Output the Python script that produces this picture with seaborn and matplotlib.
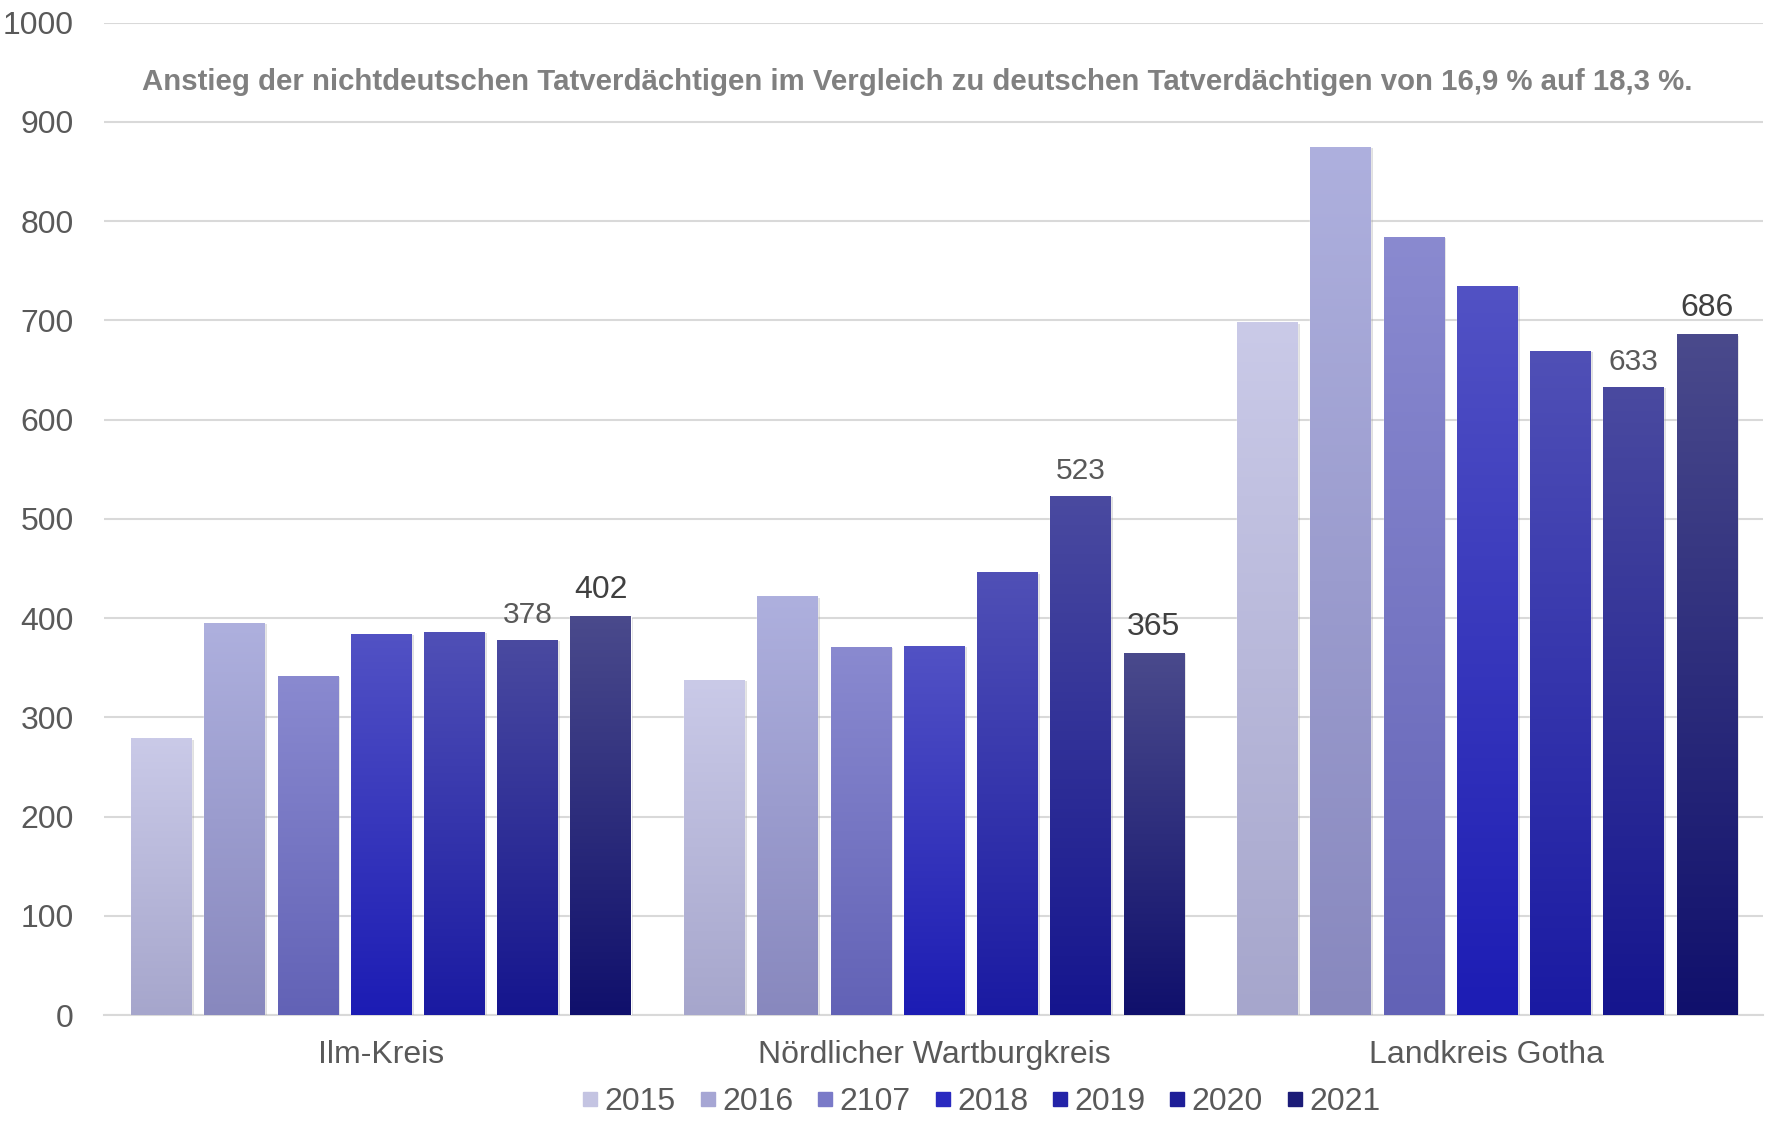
import numpy as np
import pandas as pd
import matplotlib
matplotlib.use("Agg")
import matplotlib.pyplot as plt
import matplotlib.patheffects as pe
from matplotlib.colors import LinearSegmentedColormap
from matplotlib.lines import Line2D
import seaborn as sns

# data
regions = ["Ilm-Kreis", "Nördlicher Wartburgkreis", "Landkreis Gotha"]
years = ["2015", "2016", "2107", "2018", "2019", "2020", "2021"]
ilm_kreis = [279, 395, 342, 384, 386, 378, 402]
wartburgkreis = [338, 422, 371, 372, 446, 523, 365]
gotha = [698, 875, 784, 735, 669, 633, 686]

# gradient colours per year (top of bar -> bottom of bar)
top_colors = ["#cacae8", "#aeb0de", "#8a8ad0", "#5252c4", "#5050b6", "#4a4aa0", "#4a4a8c"]
bottom_colors = ["#a6a6cc", "#8888be", "#6262b6", "#1c1cb4", "#1a1aa2", "#15158e", "#10106c"]
legend_colors = ["#c4c4e2", "#a6a6d4", "#7a7ac8", "#2a2ac0", "#2424a8", "#1e1e98", "#1c1c78"]

rows = []
for region, vals in zip(regions, [ilm_kreis, wartburgkreis, gotha]):
    for year, v in zip(years, vals):
        rows.append({"region": region, "year": year, "count": v})
df = pd.DataFrame(rows)

sns.set_style("white")
plt.rcParams["font.family"] = ["Liberation Sans", "DejaVu Sans"]

fig = plt.figure(figsize=(17.67, 11.25), dpi=100)
ax = fig.add_axes([0.059, 0.0976, 0.939, 0.8824])

sns.barplot(data=df, x="region", y="count", hue="year", order=regions, hue_order=years,
            palette=dict(zip(years, bottom_colors)), saturation=1, width=0.927, gap=0.18,
            legend=False, ax=ax, zorder=3)

# vertical gradient + soft shadow on every bar
for i, cont in enumerate(ax.containers):
    cmap = LinearSegmentedColormap.from_list("g%d" % i, [bottom_colors[i], top_colors[i]])
    for patch in cont:
        patch.set_path_effects([pe.SimplePatchShadow(offset=(2, -1), shadow_rgbFace="#999999", alpha=0.3),
                                pe.Normal()])
        x0, w, h = patch.get_x(), patch.get_width(), patch.get_height()
        im = ax.imshow(np.linspace(0, 1, 256).reshape(-1, 1), extent=[x0, x0 + w, 0, h],
                       origin="lower", cmap=cmap, aspect="auto", zorder=3.5)
        im.set_clip_path(patch)

ax.bar_label(ax.containers[5], fontsize=21.5, color="#595959", padding=8)
ax.bar_label(ax.containers[6], fontsize=23, color="#404040", padding=8)

ax.set_xlim(-0.5, 2.5)
ax.set_ylim(0, 1000)
ax.set_yticks(range(0, 1001, 100))
ax.yaxis.grid(True, color="#d9d9d9", lw=1.5)
ax.set_axisbelow(True)
for s in ["top", "right", "left"]:
    ax.spines[s].set_visible(False)
ax.spines["bottom"].set_color("#d9d9d9")
ax.spines["bottom"].set_linewidth(1.5)
ax.tick_params(axis="y", length=0, pad=22, labelsize=23, labelcolor="#595959")
ax.tick_params(axis="x", length=0, pad=18, labelsize=23, labelcolor="#595959")
ax.set_xlabel("")
ax.set_ylabel("")

ax.text(0.97, 940, "Anstieg der nichtdeutschen Tatverdächtigen im Vergleich zu deutschen Tatverdächtigen von 16,9 % auf 18,3 %.",
        ha="center", va="center", fontsize=21.2, fontweight="bold", color="#808080")

handles = [Line2D([], [], marker="s", ls="", markersize=10, color=c) for c in legend_colors]
fig.legend(handles, years, loc="center", bbox_to_anchor=(0.555, 0.02), ncol=7, frameon=False,
           fontsize=23, labelcolor="#595959", handlelength=0.6, handletextpad=0.15, columnspacing=0.7)

fig.savefig("out.png", dpi=100)
